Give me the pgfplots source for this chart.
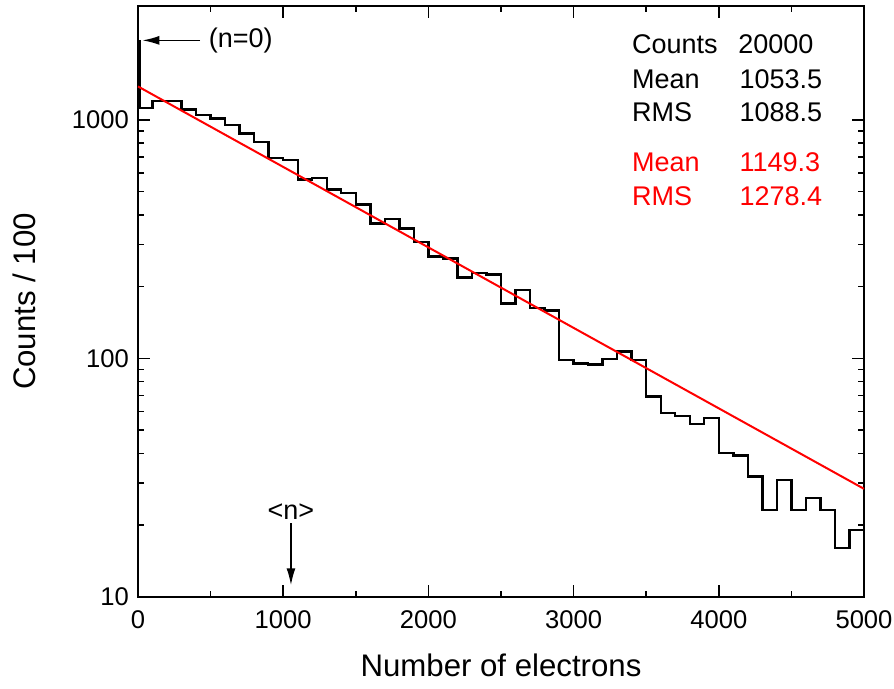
\documentclass[border=0pt]{standalone}
\usepackage{pgfplots}
\pgfplotsset{compat=1.18}
\usetikzlibrary{arrows.meta}
\usepackage{fontspec}
\setmainfont{Liberation Sans}
\begin{document}
\begin{tikzpicture}
\begin{axis}[
  scale only axis,
  width=363pt, height=295.5pt,
  xmin=0, xmax=5000,
  ymode=log, ymin=10, ymax=3000,
  xtick={0,1000,2000,3000,4000,5000},
  minor xtick={500,1500,2500,3500,4500},
  ytick={10,100,1000},
  yticklabels={10,100,1000},
  log ticks with fixed point,
  /pgf/number format/assume math mode=true,
  /pgf/number format/1000 sep={},
  tick align=inside,
  tick pos=both,
  major tick length=6pt,
  minor tick length=3pt,
  every tick/.style={black, line width=0.8pt},
  axis line style={black, line width=1pt},
  tick label style={font=\fontsize{12.8}{14}\selectfont},
  xticklabel style={yshift=-3.5pt},
  yticklabel style={xshift=-1pt},
  label style={font=\fontsize{15.6}{18}\selectfont},
  xlabel={Number of electrons},
  ylabel={Counts / 100},
  xlabel style={at={([yshift=-25pt]axis description cs:0.5,0)}, anchor=north},
  ylabel style={at={([xshift=-57pt]axis description cs:0,0.5)}, anchor=center},
  clip=false,
]
\addplot[const plot mark left, black, line width=1.2pt] coordinates {
(0,2130) (14,1124) (100,1198) (200,1198) (300,1106) (400,1046) (500,1014)
(600,950) (700,877) (800,809) (900,693) (1000,678) (1100,562) (1200,570)
(1300,511) (1400,494) (1500,442) (1600,368) (1700,385) (1800,350) (1900,307)
(2000,267) (2100,262) (2200,218) (2300,228) (2400,225) (2500,170) (2600,193)
(2700,163) (2800,159) (2900,98.2) (3000,95.1) (3100,94.2) (3200,99.5) (3300,107)
(3400,98.2) (3500,69.3) (3600,59.1) (3700,57.2) (3800,53.1) (3900,56.3)
(4000,40.1) (4100,39.2) (4200,32.0) (4300,23.1) (4400,31.0) (4500,23.1)
(4600,26.0) (4700,23.1) (4800,16.0) (4900,19.1) (5000,19.1)
};
\addplot[red, line width=1pt] coordinates {(0,1380) (5000,28.4)};
\draw[-{Latex[length=8.5pt,width=4.5pt]}, line width=0.8pt] (axis cs:427,2153) -- (axis cs:30,2153);
\node[anchor=west, font=\fontsize{13.5}{15}\selectfont] at (axis cs:440,2153) {(n=0)};
\draw[-{Latex[length=8.5pt,width=4.5pt]}, line width=0.8pt] (axis cs:1053.5,20.4) -- (axis cs:1053.5,11.2);
\node[anchor=south, font=\fontsize{13.5}{15}\selectfont, inner sep=1pt] at (axis cs:1053.5,20.6) {<n>};
\begin{scope}[every node/.style={anchor=west, font=\fontsize{13.5}{15}\selectfont, inner sep=0pt}]
\node at (axis cs:3400,2070) {Counts};
\node at (axis cs:4132,2070) {20000};
\node at (axis cs:3400,1477) {Mean};
\node at (axis cs:4140,1477) {1053.5};
\node at (axis cs:3400,1074) {RMS};
\node at (axis cs:4140,1074) {1088.5};
\node[red] at (axis cs:3400,662) {Mean};
\node[red] at (axis cs:4140,662) {1149.3};
\node[red] at (axis cs:3400,477) {RMS};
\node[red] at (axis cs:4140,477) {1278.4};
\end{scope}
\coordinate (ll) at (rel axis cs:0,0);
\end{axis}
\pgfresetboundingbox
\useasboundingbox (ll) ++(-69pt,-46pt) rectangle ++(447pt,344.5pt);
\end{tikzpicture}
\end{document}
